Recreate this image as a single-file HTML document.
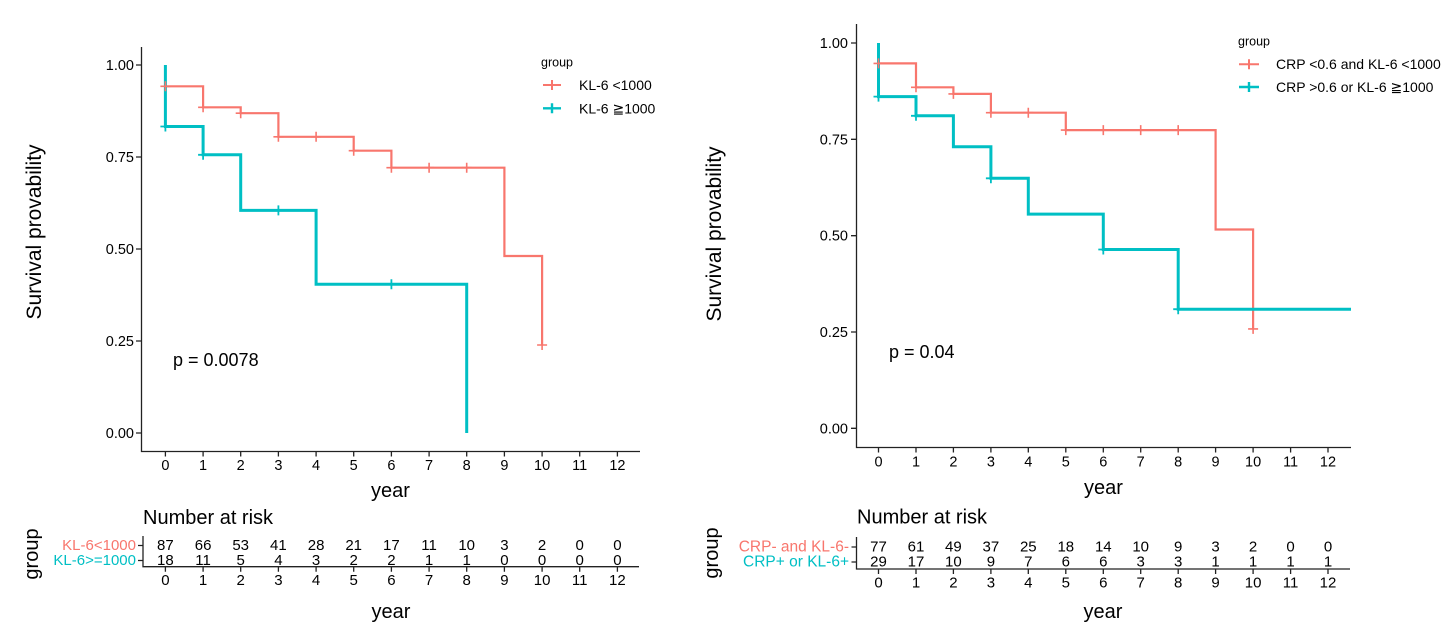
<!DOCTYPE html>
<html><head><meta charset="utf-8"><style>
html,body{margin:0;padding:0;background:#fff;}
svg{display:block;}
text{font-family:"Liberation Sans","DejaVu Sans",Arial,sans-serif;fill:#000;}
</style></head><body>
<svg width="1456" height="632" viewBox="0 0 1456 632" xmlns="http://www.w3.org/2000/svg">
<rect width="1456" height="632" fill="#fff"/>

<!-- ============ LEFT MAIN PLOT ============ -->
<g stroke="#222" stroke-width="1.3" fill="none">
  <path d="M141.5,47 V451.5 H640"/>
  <!-- y ticks -->
  <path d="M136,65 H141.5 M136,157 H141.5 M136,249 H141.5 M136,341 H141.5 M136,433 H141.5"/>
  <!-- x ticks -->
  <path d="M165.4,451.5v5 M203.1,451.5v5 M240.7,451.5v5 M278.4,451.5v5 M316.1,451.5v5 M353.7,451.5v5 M391.4,451.5v5 M429.1,451.5v5 M466.7,451.5v5 M504.4,451.5v5 M542.1,451.5v5 M579.7,451.5v5 M617.4,451.5v5"/>
</g>
<g font-size="14.5" text-anchor="end">
  <text x="134" y="70">1.00</text>
  <text x="134" y="162">0.75</text>
  <text x="134" y="254">0.50</text>
  <text x="134" y="346">0.25</text>
  <text x="134" y="438">0.00</text>
</g>
<g font-size="14.5" text-anchor="middle">
  <text x="165.4" y="470">0</text><text x="203.1" y="470">1</text><text x="240.7" y="470">2</text>
  <text x="278.4" y="470">3</text><text x="316.1" y="470">4</text><text x="353.7" y="470">5</text>
  <text x="391.4" y="470">6</text><text x="429.1" y="470">7</text><text x="466.7" y="470">8</text>
  <text x="504.4" y="470">9</text><text x="542.1" y="470">10</text><text x="579.7" y="470">11</text>
  <text x="617.4" y="470">12</text>
</g>
<text x="390.5" y="497" font-size="20" text-anchor="middle">year</text>
<text transform="translate(41,232) rotate(-90)" font-size="21" text-anchor="middle">Survival provability</text>
<text x="173" y="366" font-size="18">p = 0.0078</text>

<!-- curves -->
<path d="M165.4,65 V86.3 H203.1 V107.3 H240.7 V113.2 H278.4 V136.8 H353.7 V150.7 H391.4 V167.7 H504.4 V256 H542.1 V345" fill="none" stroke="#F8766D" stroke-width="2.2"/>
<path d="M165.4,65 V126.5 H203.1 V154.8 H240.7 V210.4 H316.1 V284.3 H466.7 V433" fill="none" stroke="#00BFC4" stroke-width="3"/>
<!-- censor marks -->
<g stroke="#F8766D" stroke-width="1.6" fill="none">
  <path d="M165.4,81.3v10 M160.4,86.3h10"/>
  <path d="M203.1,102.3v10 M198.1,107.3h10"/>
  <path d="M240.7,108.2v10 M235.7,113.2h10"/>
  <path d="M278.4,131.8v10 M273.4,136.8h10"/>
  <path d="M316.1,131.8v10 M311.1,136.8h10"/>
  <path d="M353.7,145.7v10 M348.7,150.7h10"/>
  <path d="M391.4,162.7v10 M386.4,167.7h10"/>
  <path d="M429.1,162.7v10 M424.1,167.7h10"/>
  <path d="M466.7,162.7v10 M461.7,167.7h10"/>
  <path d="M542.1,340v10 M537.1,345h10"/>
</g>
<g stroke="#00BFC4" stroke-width="1.8" fill="none">
  <path d="M165.4,121.5v10 M160.4,126.5h10"/>
  <path d="M203.1,149.8v10 M198.1,154.8h10"/>
  <path d="M278.4,205.4v10 M273.4,210.4h10"/>
  <path d="M391.4,279.3v10 M386.4,284.3h10"/>
</g>
<!-- legend -->
<text x="541" y="66.5" font-size="12.5">group</text>
<g fill="none">
  <path d="M543,85 H561 M552,80v10" stroke="#F8766D" stroke-width="2"/>
  <path d="M543,108.3 H561 M552,103.3v10" stroke="#00BFC4" stroke-width="2.4"/>
</g>
<text x="579" y="90" font-size="14">KL-6 &lt;1000</text>
<text x="579" y="113.5" font-size="14">KL-6 ≧1000</text>

<!-- ============ LEFT RISK TABLE ============ -->
<text x="143" y="524" font-size="20">Number at risk</text>
<text transform="translate(38,554) rotate(-90)" font-size="20" text-anchor="middle">group</text>
<g stroke="#222" stroke-width="1.3" fill="none">
  <path d="M143,536 V566.7 H639"/>
  <path d="M138,545.5 H143 M138,560.5 H143"/>
  <path d="M165.4,566.7v5 M203.1,566.7v5 M240.7,566.7v5 M278.4,566.7v5 M316.1,566.7v5 M353.7,566.7v5 M391.4,566.7v5 M429.1,566.7v5 M466.7,566.7v5 M504.4,566.7v5 M542.1,566.7v5 M579.7,566.7v5 M617.4,566.7v5"/>
</g>
<text x="136" y="550" font-size="15" text-anchor="end" style="fill:#F8766D">KL-6&lt;1000</text>
<text x="136" y="565" font-size="15" text-anchor="end" style="fill:#00BFC4">KL-6&gt;=1000</text>
<g font-size="15" text-anchor="middle">
  <text x="165.4" y="550">87</text><text x="203.1" y="550">66</text><text x="240.7" y="550">53</text>
  <text x="278.4" y="550">41</text><text x="316.1" y="550">28</text><text x="353.7" y="550">21</text>
  <text x="391.4" y="550">17</text><text x="429.1" y="550">11</text><text x="466.7" y="550">10</text>
  <text x="504.4" y="550">3</text><text x="542.1" y="550">2</text><text x="579.7" y="550">0</text>
  <text x="617.4" y="550">0</text>
  <text x="165.4" y="565">18</text><text x="203.1" y="565">11</text><text x="240.7" y="565">5</text>
  <text x="278.4" y="565">4</text><text x="316.1" y="565">3</text><text x="353.7" y="565">2</text>
  <text x="391.4" y="565">2</text><text x="429.1" y="565">1</text><text x="466.7" y="565">1</text>
  <text x="504.4" y="565">0</text><text x="542.1" y="565">0</text><text x="579.7" y="565">0</text>
  <text x="617.4" y="565">0</text>
  <text x="165.4" y="585">0</text><text x="203.1" y="585">1</text><text x="240.7" y="585">2</text>
  <text x="278.4" y="585">3</text><text x="316.1" y="585">4</text><text x="353.7" y="585">5</text>
  <text x="391.4" y="585">6</text><text x="429.1" y="585">7</text><text x="466.7" y="585">8</text>
  <text x="504.4" y="585">9</text><text x="542.1" y="585">10</text><text x="579.7" y="585">11</text>
  <text x="617.4" y="585">12</text>
</g>
<text x="391" y="618" font-size="20" text-anchor="middle">year</text>

<!-- ============ RIGHT MAIN PLOT ============ -->
<g stroke="#222" stroke-width="1.3" fill="none">
  <path d="M856.5,24 V447.5 H1351"/>
  <path d="M851,43 H856.5 M851,139.3 H856.5 M851,235.7 H856.5 M851,332 H856.5 M851,428.3 H856.5"/>
  <path d="M878.5,447.5v5 M916,447.5v5 M953.4,447.5v5 M990.9,447.5v5 M1028.3,447.5v5 M1065.8,447.5v5 M1103.3,447.5v5 M1140.7,447.5v5 M1178.2,447.5v5 M1215.6,447.5v5 M1253.1,447.5v5 M1290.6,447.5v5 M1328,447.5v5"/>
</g>
<g font-size="14.5" text-anchor="end">
  <text x="848" y="48">1.00</text>
  <text x="848" y="144.3">0.75</text>
  <text x="848" y="240.7">0.50</text>
  <text x="848" y="337">0.25</text>
  <text x="848" y="433.3">0.00</text>
</g>
<g font-size="14.5" text-anchor="middle">
  <text x="878.5" y="466.5">0</text><text x="916" y="466.5">1</text><text x="953.4" y="466.5">2</text>
  <text x="990.9" y="466.5">3</text><text x="1028.3" y="466.5">4</text><text x="1065.8" y="466.5">5</text>
  <text x="1103.3" y="466.5">6</text><text x="1140.7" y="466.5">7</text><text x="1178.2" y="466.5">8</text>
  <text x="1215.6" y="466.5">9</text><text x="1253.1" y="466.5">10</text><text x="1290.6" y="466.5">11</text>
  <text x="1328" y="466.5">12</text>
</g>
<text x="1103.5" y="494" font-size="20" text-anchor="middle">year</text>
<text transform="translate(721,234) rotate(-90)" font-size="21" text-anchor="middle">Survival provability</text>
<text x="889" y="358" font-size="18">p = 0.04</text>

<path d="M878.5,43 V63.4 H916 V87.3 H953.4 V93.9 H990.9 V112.7 H1065.8 V130.1 H1215.6 V229.5 H1253.1 V328.9" fill="none" stroke="#F8766D" stroke-width="2.2"/>
<path d="M878.5,43 V96.6 H916 V115.8 H953.4 V146.7 H990.9 V178.3 H1028.3 V214.1 H1103.3 V249.5 H1178.2 V309.2 H1351" fill="none" stroke="#00BFC4" stroke-width="3"/>
<g stroke="#F8766D" stroke-width="1.6" fill="none">
  <path d="M878.5,58.4v10 M873.5,63.4h10"/>
  <path d="M916,82.3v10 M911,87.3h10"/>
  <path d="M953.4,88.9v10 M948.4,93.9h10"/>
  <path d="M990.9,107.7v10 M985.9,112.7h10"/>
  <path d="M1028.3,107.7v10 M1023.3,112.7h10"/>
  <path d="M1065.8,125.1v10 M1060.8,130.1h10"/>
  <path d="M1103.3,125.1v10 M1098.3,130.1h10"/>
  <path d="M1140.7,125.1v10 M1135.7,130.1h10"/>
  <path d="M1178.2,125.1v10 M1173.2,130.1h10"/>
  <path d="M1253.1,323.9v10 M1248.1,328.9h10"/>
</g>
<g stroke="#00BFC4" stroke-width="1.8" fill="none">
  <path d="M878.5,91.6v10 M873.5,96.6h10"/>
  <path d="M916,110.8v10 M911,115.8h10"/>
  <path d="M990.9,173.3v10 M985.9,178.3h10"/>
  <path d="M1103.3,244.5v10 M1098.3,249.5h10"/>
  <path d="M1178.2,304.2v10 M1173.2,309.2h10"/>
</g>
<text x="1238" y="45.7" font-size="12.5">group</text>
<g fill="none">
  <path d="M1239,64.3 H1259 M1249,59.3v10" stroke="#F8766D" stroke-width="2"/>
  <path d="M1239,87 H1259 M1249,82v10" stroke="#00BFC4" stroke-width="2.4"/>
</g>
<text x="1276" y="69" font-size="14">CRP &lt;0.6 and KL-6 &lt;1000</text>
<text x="1276" y="92" font-size="14">CRP &gt;0.6 or KL-6 ≧1000</text>

<!-- ============ RIGHT RISK TABLE ============ -->
<text x="857" y="523.3" font-size="20">Number at risk</text>
<text transform="translate(718,553) rotate(-90)" font-size="20" text-anchor="middle">group</text>
<g stroke="#222" stroke-width="1.3" fill="none">
  <path d="M856.5,537 V569 H1350"/>
  <path d="M851.5,547 H856.5 M851.5,562 H856.5"/>
  <path d="M878.5,569v5 M916,569v5 M953.4,569v5 M990.9,569v5 M1028.3,569v5 M1065.8,569v5 M1103.3,569v5 M1140.7,569v5 M1178.2,569v5 M1215.6,569v5 M1253.1,569v5 M1290.6,569v5 M1328,569v5"/>
</g>
<text x="849" y="551.5" font-size="15.5" text-anchor="end" style="fill:#F8766D">CRP- and KL-6-</text>
<text x="849" y="566.5" font-size="15.5" text-anchor="end" style="fill:#00BFC4">CRP+ or KL-6+</text>
<g font-size="15" text-anchor="middle">
  <text x="878.5" y="551.5">77</text><text x="916" y="551.5">61</text><text x="953.4" y="551.5">49</text>
  <text x="990.9" y="551.5">37</text><text x="1028.3" y="551.5">25</text><text x="1065.8" y="551.5">18</text>
  <text x="1103.3" y="551.5">14</text><text x="1140.7" y="551.5">10</text><text x="1178.2" y="551.5">9</text>
  <text x="1215.6" y="551.5">3</text><text x="1253.1" y="551.5">2</text><text x="1290.6" y="551.5">0</text>
  <text x="1328" y="551.5">0</text>
  <text x="878.5" y="566.5">29</text><text x="916" y="566.5">17</text><text x="953.4" y="566.5">10</text>
  <text x="990.9" y="566.5">9</text><text x="1028.3" y="566.5">7</text><text x="1065.8" y="566.5">6</text>
  <text x="1103.3" y="566.5">6</text><text x="1140.7" y="566.5">3</text><text x="1178.2" y="566.5">3</text>
  <text x="1215.6" y="566.5">1</text><text x="1253.1" y="566.5">1</text><text x="1290.6" y="566.5">1</text>
  <text x="1328" y="566.5">1</text>
  <text x="878.5" y="587.5">0</text><text x="916" y="587.5">1</text><text x="953.4" y="587.5">2</text>
  <text x="990.9" y="587.5">3</text><text x="1028.3" y="587.5">4</text><text x="1065.8" y="587.5">5</text>
  <text x="1103.3" y="587.5">6</text><text x="1140.7" y="587.5">7</text><text x="1178.2" y="587.5">8</text>
  <text x="1215.6" y="587.5">9</text><text x="1253.1" y="587.5">10</text><text x="1290.6" y="587.5">11</text>
  <text x="1328" y="587.5">12</text>
</g>
<text x="1103" y="618" font-size="20" text-anchor="middle">year</text>
</svg>
</body></html>
